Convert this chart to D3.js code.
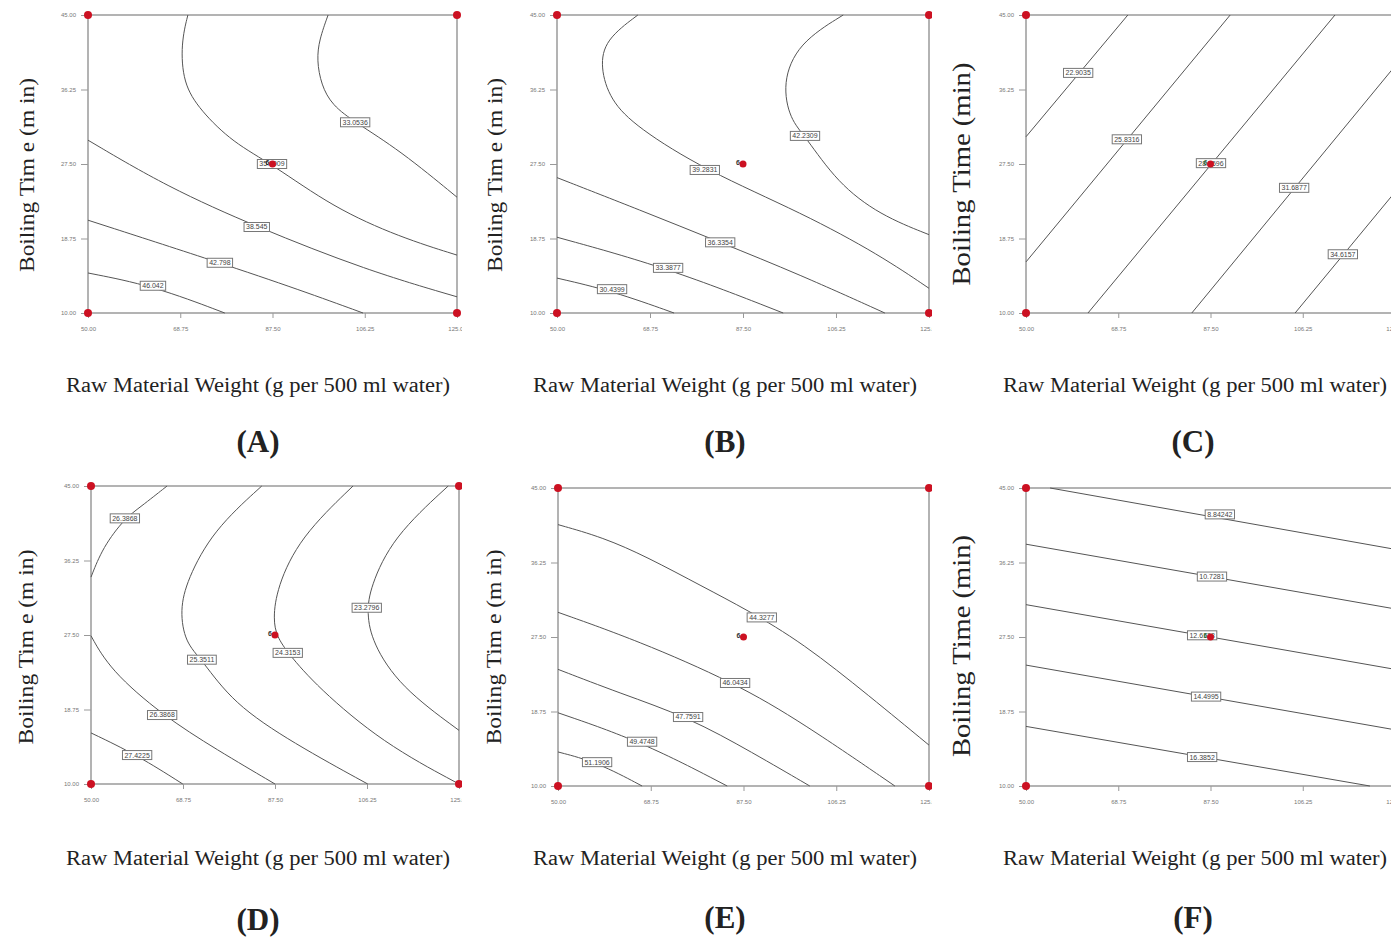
<!DOCTYPE html>
<html>
<head>
<meta charset="utf-8">
<title>Contour plots (A)-(F)</title>
<script src="https://cdn.jsdelivr.net/npm/d3@7"></script>
<style>
  body { margin: 0; background: #fff; }
  .tick text { font-family: Arial, sans-serif; font-size: 6px; fill: #777; }
  .tick line { stroke: #999; }
  .frame { fill: none; stroke: #9a9a9a; stroke-width: 1.5; }
  .ctr { fill: none; stroke: #555; stroke-width: 1; }
  .lab rect { fill: #fff; stroke: #777; stroke-width: 1; }
  .lab text { font-family: Arial, sans-serif; font-size: 7px; fill: #444; }
  .ttl { font-family: "Liberation Serif", "Times New Roman", serif; fill: #222; }
  .dot { fill: #cc1122; }
  .cnt { font-family: Arial, sans-serif; font-size: 7px; font-weight: bold; }
</style>
</head>
<body>
<svg id="chart" width="1391" height="942"></svg>
<script>
// axes shared by all six plots
var xTicks = [50, 68.75, 87.5, 106.25, 125];
var yTicks = [10, 18.75, 27.5, 36.25, 45];
var xDomain = [50, 125];
var yDomain = [10, 45];
var centerPoint = [87.5, 27.5];

// contour lines: [raw material, boiling time]
var contoursA = [
  { level: '33.0536', label: [104.3, 32.4], pts: [[98.8, 45], [97.0, 42.1], [96.5, 39.7], [97.4, 36.8], [99.6, 34.4], [104.3, 32.4], [113.4, 29.1], [125, 23.6]] },
  { level: '35.8009', label: [87.4, 27.5], pts: [[70.3, 45], [68.9, 41.7], [69.3, 37.0], [72.8, 33.8], [79.5, 30.0], [87.4, 27.5], [99.8, 22.4], [113.4, 18.9], [125, 16.8]] },
  { level: '38.545', label: [84.3, 20.1], pts: [[50, 30.3], [66.1, 24.8], [84.3, 20.1], [106.7, 15.0], [125, 11.9]] },
  { level: '42.798', label: [76.8, 15.9], pts: [[50, 20.9], [76.8, 15.9], [93.1, 12.7], [105.9, 10]] },
  { level: '46.042', label: [63.2, 13.2], pts: [[50, 14.7], [63.2, 13.2], [77.8, 10]] }
];
var contoursB = [
  { level: '42.2309', label: [100.0, 30.8], pts: [[107.7, 45], [98.6, 41.7], [95.4, 37.0], [97.0, 32.7], [100.0, 30.8], [106.5, 25.3], [115.1, 21.5], [125, 19.2]] },
  { level: '39.2831', label: [79.8, 26.8], pts: [[66.3, 45], [59.7, 42.1], [58.7, 38.9], [60.7, 35.0], [66.1, 31.8], [79.8, 26.8], [99.6, 21.7], [115.1, 16.8], [125, 12.9]] },
  { level: '36.3354', label: [82.9, 18.3], pts: [[50, 25.9], [66.7, 22.1], [82.9, 18.3], [99.0, 14.5], [116.1, 10]] },
  { level: '33.3877', label: [72.4, 15.3], pts: [[50, 18.9], [72.4, 15.3], [95.6, 10]] },
  { level: '30.4399', label: [61.1, 12.8], pts: [[50, 14.1], [61.1, 12.6], [73.6, 10]] }
];
var contoursC = [
  { level: '22.9035', label: [60.6, 38.2], pts: [[50, 30.7], [70.7, 45]] },
  { level: '25.8316', label: [70.5, 30.4], pts: [[50, 16.0], [91.5, 45]] },
  { level: '28.7596', label: [87.6, 27.6], pts: [[62.6, 10], [112.8, 45]] },
  { level: '31.6877', label: [104.5, 24.7], pts: [[83.7, 10], [125, 39.0]] },
  { level: '34.6157', label: [114.4, 16.9], pts: [[104.7, 10], [125, 24.2]] }
];
var contoursD = [
  { level: '26.3868', label: [56.9, 41.2], pts: [[65.5, 45], [60.0, 42.5], [56.9, 41.2], [52.4, 37.8], [50, 34.3]] },
  { level: '26.3868', label: [64.5, 18.1], pts: [[50, 27.4], [53.9, 23.4], [64.5, 18.1], [75.7, 14.0], [87.5, 10]] },
  { level: '27.4225', label: [59.4, 13.4], pts: [[50, 16.0], [59.4, 13.4], [68.7, 10]] },
  { level: '25.3511', label: [72.6, 24.6], pts: [[84.8, 45], [74.9, 39.8], [69.6, 34.0], [68.1, 30.4], [69.2, 26.6], [72.6, 24.6], [78.9, 19.5], [91.2, 14.8], [106.4, 10]] },
  { level: '24.3153', label: [90.1, 25.4], pts: [[103.4, 45], [92.6, 39.0], [87.9, 33.1], [87.1, 29.3], [87.9, 27.3], [90.1, 25.4], [96.1, 21.4], [109.5, 14.8], [125, 10]] },
  { level: '23.2796', label: [106.2, 30.7], pts: [[122.8, 45], [111.5, 39.0], [106.9, 33.1], [106.2, 30.1], [107.3, 26.6], [113.0, 21.4], [125, 16.3]] }
];
var contoursE = [
  { level: '44.3277', label: [91.2, 29.8], pts: [[50, 40.7], [59.1, 39.2], [68.0, 36.9], [79.3, 33.4], [88.2, 30.7], [99.5, 26.8], [113.1, 20.5], [125, 14.8]] },
  { level: '46.0434', label: [85.8, 22.1], pts: [[50, 30.4], [66.0, 27.1], [85.8, 22.1], [99.5, 17.4], [118.1, 10]] },
  { level: '47.7591', label: [76.3, 18.1], pts: [[50, 23.7], [62.5, 20.9], [76.3, 18.1], [89.4, 13.9], [100.9, 10]] },
  { level: '49.4748', label: [67.0, 15.2], pts: [[50, 18.6], [67.0, 15.2], [84.2, 10]] },
  { level: '51.1906', label: [57.9, 12.8], pts: [[50, 14.0], [57.9, 12.8], [67.0, 10]] }
];
var contoursF = [
  { level: '8.84242', label: [89.4, 41.9], pts: [[54.9, 45], [125, 37.8]] },
  { level: '10.7281', label: [87.8, 34.6], pts: [[50, 38.4], [125, 30.8]] },
  { level: '12.6138', label: [85.8, 27.7], pts: [[50, 31.3], [125, 23.7]] },
  { level: '14.4995', label: [86.6, 20.5], pts: [[50, 24.2], [125, 16.6]] },
  { level: '16.3852', label: [85.8, 13.4], pts: [[50, 17.0], [119.9, 10]] }
];

var panels = [
  { id: 'A', cx: 0, cy: 0, cw: 462, ch: 471, left: 88, top: 15, w: 369, h: 298, data: contoursA, cntColor: '#222',
    yTitle: 'Boiling Tim e (m in)', ytx: 27, yty: 175, ytLen: 194, ytSize: 22, xtx: 258, xty: 392, lx: 258, ly: 452 },
  { id: 'B', cx: 470, cy: 0, cw: 462, ch: 471, left: 557, top: 15, w: 372, h: 298, data: contoursB, cntColor: '#333',
    yTitle: 'Boiling Tim e (m in)', ytx: 495, yty: 175, ytLen: 194, ytSize: 22, xtx: 725, xty: 392, lx: 725, ly: 452 },
  { id: 'C', cx: 940, cy: 0, cw: 451, ch: 471, left: 1026, top: 15, w: 369, h: 298, data: contoursC, cntColor: '#2d6b35',
    yTitle: 'Boiling Time (min)', ytx: 962, yty: 174, ytLen: 223, ytSize: 25, xtx: 1195, xty: 392, lx: 1193, ly: 452 },
  { id: 'D', cx: 0, cy: 471, cw: 462, ch: 471, left: 91, top: 486, w: 368, h: 298, data: contoursD, cntColor: '#333',
    yTitle: 'Boiling Tim e (m in)', ytx: 26, yty: 647, ytLen: 195, ytSize: 22, xtx: 258, xty: 865, lx: 258, ly: 930 },
  { id: 'E', cx: 470, cy: 471, cw: 462, ch: 471, left: 558, top: 488, w: 371, h: 298, data: contoursE, cntColor: '#333',
    yTitle: 'Boiling Tim e (m in)', ytx: 494, yty: 647, ytLen: 195, ytSize: 22, xtx: 725, xty: 865, lx: 725, ly: 928 },
  { id: 'F', cx: 940, cy: 471, cw: 451, ch: 471, left: 1026, top: 488, w: 369, h: 298, data: contoursF, cntColor: '#2d6b35',
    yTitle: 'Boiling Time (min)', ytx: 962, yty: 646, ytLen: 222, ytSize: 25, xtx: 1195, xty: 865, lx: 1193, ly: 928 }
];

var svg = d3.select('#chart');
var defs = svg.append('defs');
var fmt = d3.format('.2f');

panels.forEach(function(p) {
  defs.append('clipPath').attr('id', 'clip' + p.id)
    .append('rect').attr('x', p.cx).attr('y', p.cy).attr('width', p.cw).attr('height', p.ch);

  var outer = svg.append('g').attr('clip-path', 'url(#clip' + p.id + ')');
  var x = d3.scaleLinear().domain(xDomain).range([0, p.w]);
  var y = d3.scaleLinear().domain(yDomain).range([p.h, 0]);
  var g = outer.append('g').attr('transform', 'translate(' + p.left + ',' + p.top + ')');

  g.append('g')
    .attr('transform', 'translate(0,' + p.h + ')')
    .call(d3.axisBottom(x).tickValues(xTicks).tickFormat(fmt).tickSize(5).tickPadding(9))
    .call(function(a) { a.select('.domain').remove(); });
  g.append('g')
    .call(d3.axisLeft(y).tickValues(yTicks).tickFormat(fmt).tickSize(7).tickPadding(5))
    .call(function(a) { a.select('.domain').remove(); });

  g.append('rect').attr('class', 'frame')
    .attr('x', 0).attr('y', 0).attr('width', p.w).attr('height', p.h);

  var line = d3.line()
    .x(function(d) { return x(d[0]); })
    .y(function(d) { return y(d[1]); })
    .curve(d3.curveBasis);

  g.selectAll('.ctr').data(p.data).enter()
    .append('path').attr('class', 'ctr')
    .attr('d', function(d) { return line(d.pts); });

  var lab = g.selectAll('.lab').data(p.data).enter()
    .append('g').attr('class', 'lab')
    .attr('transform', function(d) { return 'translate(' + x(d.label[0]) + ',' + y(d.label[1]) + ')'; });
  lab.append('rect');
  lab.append('text').attr('text-anchor', 'middle').attr('dy', '0.35em').text(function(d) { return d.level; });
  lab.each(function() {
    var t = d3.select(this).select('text').node().getComputedTextLength();
    d3.select(this).select('rect')
      .attr('x', -t / 2 - 2).attr('y', -4.5).attr('width', t + 4).attr('height', 9);
  });

  // design points: four corners and the centre
  var corners = [[xDomain[0], yDomain[0]], [xDomain[1], yDomain[0]], [xDomain[0], yDomain[1]], [xDomain[1], yDomain[1]]];
  g.append('text').attr('class', 'cnt')
    .attr('x', x(centerPoint[0]) - 3).attr('y', y(centerPoint[1]) + 1)
    .attr('text-anchor', 'end').style('fill', p.cntColor).text('6');
  g.selectAll('.dot').data(corners.concat([centerPoint])).enter()
    .append('circle').attr('class', 'dot')
    .attr('cx', function(d) { return x(d[0]); })
    .attr('cy', function(d) { return y(d[1]); })
    .attr('r', function(d, i) { return i < 4 ? 4 : 3.5; });

  outer.append('text').attr('class', 'ttl')
    .attr('transform', 'translate(' + p.ytx + ',' + p.yty + ') rotate(-90)')
    .attr('text-anchor', 'middle').attr('dy', '0.33em')
    .style('font-size', p.ytSize + 'px')
    .attr('textLength', p.ytLen).attr('lengthAdjust', 'spacingAndGlyphs')
    .text(p.yTitle);

  outer.append('text').attr('class', 'ttl')
    .attr('x', p.xtx).attr('y', p.xty)
    .attr('text-anchor', 'middle')
    .style('font-size', '20px')
    .attr('textLength', 384).attr('lengthAdjust', 'spacingAndGlyphs')
    .text('Raw Material Weight (g per 500 ml water)');

  outer.append('text').attr('class', 'ttl')
    .attr('x', p.lx).attr('y', p.ly)
    .attr('text-anchor', 'middle')
    .style('font-size', '31px').style('font-weight', 'bold')
    .text('(' + p.id + ')');
});
</script>
</body>
</html>
